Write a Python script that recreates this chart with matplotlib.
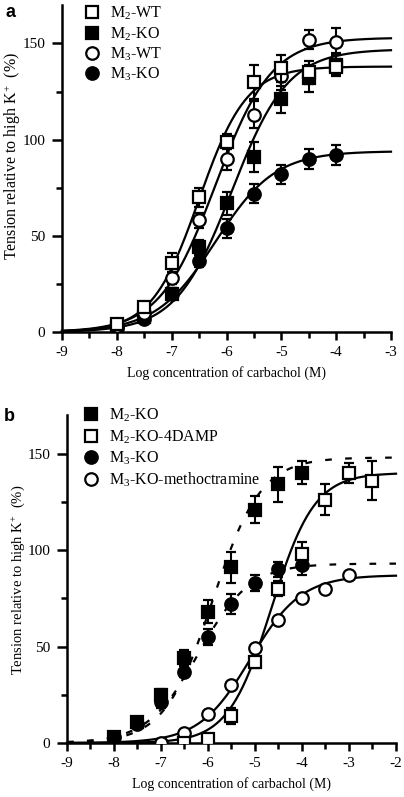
import numpy as np
import matplotlib
matplotlib.use("Agg")
import matplotlib.pyplot as plt
from matplotlib.lines import Line2D

plt.rcParams['font.family'] = ['Liberation Serif', 'DejaVu Serif']
plt.rcParams['mathtext.fontset'] = 'custom'
plt.rcParams['mathtext.rm'] = 'Liberation Serif'
plt.rcParams['mathtext.it'] = 'Liberation Serif:italic'
plt.rcParams['mathtext.bf'] = 'Liberation Serif:bold'

# ---------------- Panel a data ----------------
x_a = [-8, -7.5, -7, -6.5, -6, -5.5, -5, -4.5, -4]
m2wt = [4, 13, 36, 70, 99, 130, 137, 135, 138]
m2wt_err = [1, 2, 5, 5, 4, 9, 7, 6, 4]
m2ko = [2, 8, 20, 44, 67, 91, 121, 132, 139]
m2ko_err = [1, 2, 3, 4, 6, 8, 7, 7, 6]
m3wt = [3, 10, 28, 58, 90, 113, 133, 152, 151]
m3wt_err = [1, 2, 3, 4, 6, 7, 7, 5, 7]
m3ko = [2, 7, 20, 37, 54, 72, 82, 90, 92]
m3ko_err = [1, 2, 3, 3, 5, 5, 5, 5, 5]

# Hill fit parameters (top, logEC50, slope)
fit_m2wt = (138, -6.5, 1.0)
fit_m2ko = (147, -5.9, 0.85)
fit_m3wt = (153, -6.2, 0.85)
fit_m3ko = (94, -6.2, 0.8)

# ---------------- Panel b data ----------------
x_b_ko = [-8, -7.5, -7, -6.5, -6, -5.5, -5, -4.5, -4]
b_m2ko = [3, 11, 25, 44, 68, 91, 121, 134, 140]
b_m2ko_err = [1, 2, 3, 4, 6, 8, 7, 9, 6]
b_m3ko = [3, 10, 21, 37, 55, 72, 83, 90, 92]
b_m3ko_err = [1, 2, 3, 3, 4, 5, 4, 4, 5]
x_b_damp = [-6.5, -6, -5.5, -5, -4.5, -4, -3.5, -3, -2.5]
b_damp = [0, 2, 14, 42, 80, 98, 126, 140, 136]
b_damp_err = [1, 2, 4, 3, 4, 6, 8, 5, 10]
x_b_meth = [-7, -6.5, -6, -5.5, -5, -4.5, -4, -3.5, -3]
b_meth = [0, 5, 15, 30, 49, 64, 75, 80, 87]
b_meth_err = [1, 1, 1, 1, 1, 1, 1, 2, 1]

fit_b_m2ko = (148, -5.9, 0.85)
fit_b_m3ko = (93, -6.2, 0.8)
fit_b_damp = (140, -4.65, 0.95)
fit_b_meth = (87, -5.1, 0.8)

xticks_a = [-9, -8, -7, -6, -5, -4, -3]
xticks_b = [-9, -8, -7, -6, -5, -4, -3, -2]
yticks = [0, 50, 100, 150]

xlabel = "Log concentration of carbachol (M)"
ylabel = "Tension relative to high K$^{+}$  (%)"


def hill(x, p):
    top, ec, n = p
    return top / (1 + 10 ** ((ec - x) * n))


fig = plt.figure(figsize=(4.04, 7.97), dpi=100)
ax_a = fig.add_axes([62 / 404, 1 - 332 / 797, 329 / 404, 327 / 797])
ax_b = fig.add_axes([67 / 404, 1 - 743 / 797, 329 / 404, 328 / 797])

ms = 9
mew = 1.6
lw = 1.6
common_err = dict(linestyle='none', ecolor='black', elinewidth=1.5, capsize=3.5, capthick=1.5)


def plot_series(ax, x, y, err, marker, filled, z):
    ax.errorbar(x, y, yerr=err, marker=marker, markersize=ms,
                markerfacecolor='black' if filled else 'white',
                markeredgecolor='black', markeredgewidth=mew, zorder=z, **common_err)


def style(ax, xticks, xlim, ylab_size, ylab_coords):
    ax.set_xlim(*xlim)
    ax.set_ylim(0, 170)
    ax.spines['top'].set_visible(False)
    ax.spines['right'].set_visible(False)
    for s in ['left', 'bottom']:
        ax.spines[s].set_linewidth(1.8)
    ax.set_xticks(xticks)
    ax.set_xticklabels([str(t) for t in xticks])
    ax.set_xticks(np.arange(xlim[0] + 0.5, xlim[1], 1.0), minor=True)
    ax.set_yticks(yticks)
    ax.set_yticks([25, 75, 125], minor=True)
    ax.tick_params(which='major', width=1.8, labelsize=11, direction='out')
    ax.tick_params(axis='x', which='major', length=6, pad=4)
    ax.tick_params(axis='y', which='major', length=7, pad=5)
    ax.tick_params(which='minor', length=4, width=1.8, direction='out')
    ax.set_xlabel(xlabel, fontsize=10, labelpad=5)
    ax.set_ylabel(ylabel, fontsize=ylab_size)
    ax.yaxis.set_label_coords(*ylab_coords)


# ---------- Panel a ----------
xs = np.linspace(-9, -3, 300)
for p in [fit_m2wt, fit_m2ko, fit_m3wt, fit_m3ko]:
    ax_a.plot(xs, hill(xs, p), color='black', lw=lw, zorder=2, clip_on=False)
plot_series(ax_a, x_a, m3ko, m3ko_err, 'o', True, 3)
plot_series(ax_a, x_a, m2ko, m2ko_err, 's', True, 4)
plot_series(ax_a, x_a, m3wt, m3wt_err, 'o', False, 5)
plot_series(ax_a, x_a, m2wt, m2wt_err, 's', False, 6)
style(ax_a, xticks_a, (-9, -3), 11.5, (-0.119, 0.538))

handles_a = [
    Line2D([], [], marker='s', ls='none', ms=ms, mfc='white', mec='black', mew=mew),
    Line2D([], [], marker='s', ls='none', ms=ms, mfc='black', mec='black', mew=mew),
    Line2D([], [], marker='o', ls='none', ms=ms, mfc='white', mec='black', mew=mew),
    Line2D([], [], marker='o', ls='none', ms=ms, mfc='black', mec='black', mew=mew),
]
labels_a = ["M$_2$-WT", "M$_2$-KO", "M$_3$-WT", "M$_3$-KO"]
ax_a.legend(handles_a, labels_a, loc='upper left', bbox_to_anchor=(0.067, 1.0),
            frameon=False, fontsize=11.5, handlelength=1.0, handletextpad=0.6,
            labelspacing=0.17, borderaxespad=0, borderpad=0)

# ---------- Panel b ----------
xs_b = np.linspace(-9, -2, 300)
for p in [fit_b_m2ko, fit_b_m3ko]:
    ax_b.plot(xs_b, hill(xs_b, p), color='black', lw=lw, ls=(0, (3, 6)), zorder=2, clip_on=False)
for p in [fit_b_damp, fit_b_meth]:
    ax_b.plot(xs_b, hill(xs_b, p), color='black', lw=lw, zorder=2, clip_on=False)
plot_series(ax_b, x_b_ko, b_m3ko, b_m3ko_err, 'o', True, 3)
plot_series(ax_b, x_b_ko, b_m2ko, b_m2ko_err, 's', True, 4)
plot_series(ax_b, x_b_meth, b_meth, b_meth_err, 'o', False, 5)
plot_series(ax_b, x_b_damp, b_damp, b_damp_err, 's', False, 6)
style(ax_b, xticks_b, (-9, -2), 10.5, (-0.122, 0.497))

handles_b = [
    Line2D([], [], marker='s', ls='none', ms=ms, mfc='black', mec='black', mew=mew),
    Line2D([], [], marker='s', ls='none', ms=ms, mfc='white', mec='black', mew=mew),
    Line2D([], [], marker='o', ls='none', ms=ms, mfc='black', mec='black', mew=mew),
    Line2D([], [], marker='o', ls='none', ms=ms, mfc='white', mec='black', mew=mew),
]
labels_b = ["M$_2$-KO", "M$_2$-KO-4DAMP", "M$_3$-KO", "M$_3$-KO-methoctramine"]
ax_b.legend(handles_b, labels_b, loc='upper left', bbox_to_anchor=(0.05, 1.025),
            frameon=False, fontsize=11.5, handlelength=1.0, handletextpad=0.6,
            labelspacing=0.25, borderaxespad=0, borderpad=0)

fig.text(6 / 404, 1 - 4 / 797, "a", fontsize=13, fontweight='bold',
         family=['Liberation Sans', 'DejaVu Sans'], va='top', ha='left')
fig.text(4 / 404, 1 - 408 / 797, "b", fontsize=13, fontweight='bold',
         family=['Liberation Sans', 'DejaVu Sans'], va='top', ha='left')

fig.savefig("out.png", dpi=100)
